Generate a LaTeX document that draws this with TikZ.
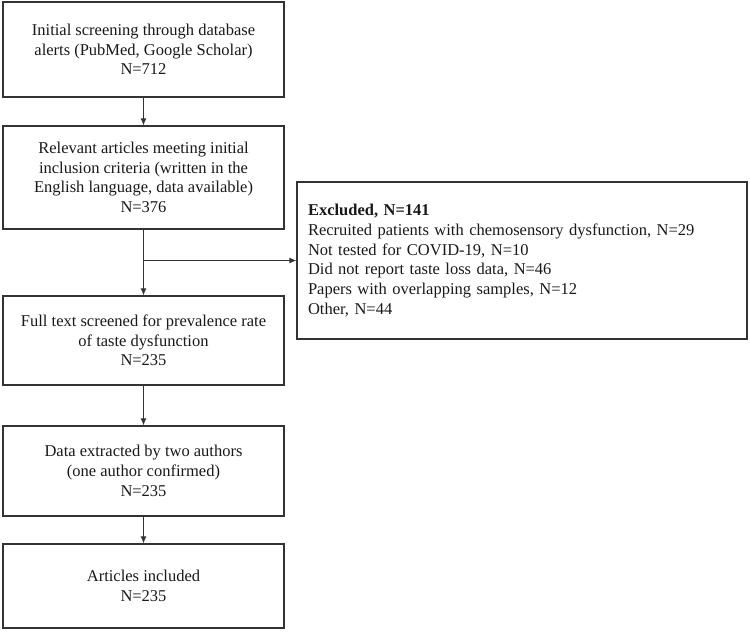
\documentclass[tikz,border=0pt]{standalone}
\usepackage{fontspec}
\setmainfont{Liberation Serif}
\usetikzlibrary{arrows.meta}
\begin{document}
\begin{tikzpicture}[x=1pt,y=-1pt,
  every node/.style={font=\fontsize{16.5}{19.7}\selectfont, text=black!90},
  flowbox/.style={draw=black!80, line width=1.3pt, minimum width=281pt, inner sep=0pt, align=center},
  exbox/.style={draw=black!80, line width=1.3pt, minimum width=450pt, minimum height=157pt, inner xsep=11pt, inner ysep=0pt, align=left, text width=428pt},
  link/.style={draw=black!80, line width=0.9pt},
  arr/.style={link, -{Latex[length=7pt,width=6pt]}}]
\useasboundingbox (0,0) rectangle (750,632);
\node[flowbox, minimum height=95pt] (b1) at (143.5,49.5) {Initial screening through database\\alerts (PubMed, Google Scholar)\\N=712};
\node[flowbox, minimum height=103pt] (b2) at (143.5,177.5) {Relevant articles meeting initial\\inclusion criteria (written in the\\English language, data available)\\N=376};
\node[flowbox, minimum height=89pt] (b3) at (143.5,340.5) {Full text screened for prevalence rate\\of taste dysfunction\\N=235};
\node[flowbox, minimum height=90pt] (b4) at (143.5,471) {Data extracted by two authors\\(one author confirmed)\\N=235};
\node[flowbox, minimum height=84pt] (b5) at (143.5,586) {Articles included\\N=235};
\node[exbox] (ex) at (522,260.5) {\textbf{Excluded, N=141}\\Recruited patients with chemosensory dysfunction, N=29\\Not tested for COVID-19, N=10\\Did not report taste loss data, N=46\\Papers with overlapping samples, N=12\\Other, N=44};
\coordinate (j) at (143.5,260.5);
\draw[arr] (b1.south) -- (b2.north);
\draw[arr] (b2.south) -- (b3.north);
\draw[arr] (j) -- (ex.west);
\draw[arr] (b3.south) -- (b4.north);
\draw[arr] (b4.south) -- (b5.north);
\end{tikzpicture}
\end{document}
